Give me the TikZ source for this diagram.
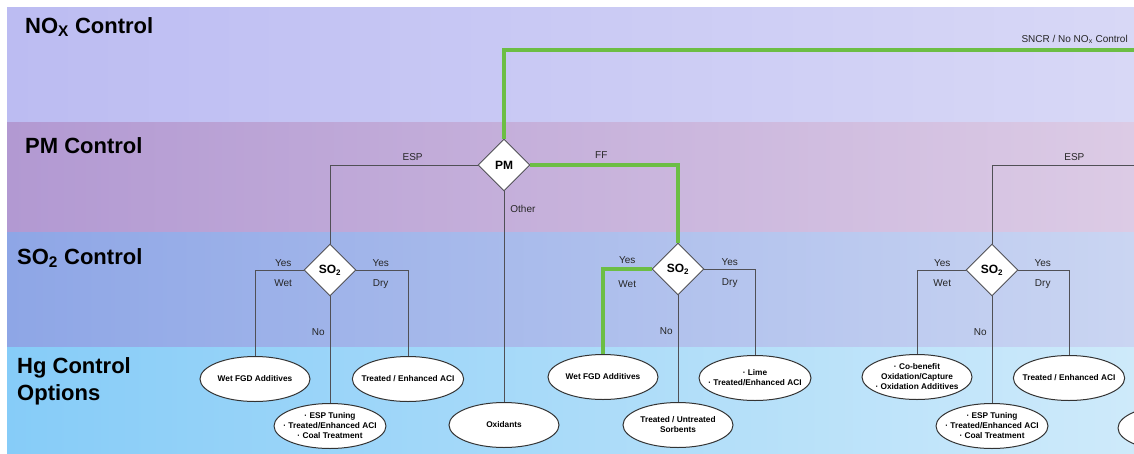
\documentclass[tikz,border=0pt]{standalone}
\usepackage{fontspec}
\setmainfont{Liberation Sans}
\usepackage{xcolor}
% band colours, left and right end of each gradient
\definecolor{noxL}{RGB}{188,188,242}
\definecolor{noxR}{RGB}{216,216,246}
\definecolor{pmL}{RGB}{178,153,210}
\definecolor{pmR}{RGB}{220,203,229}
\definecolor{soL}{RGB}{142,166,230}
\definecolor{soR}{RGB}{202,213,242}
\definecolor{hgL}{RGB}{134,204,248}
\definecolor{hgR}{RGB}{206,234,250}
\definecolor{pathgreen}{RGB}{108,190,68}
\definecolor{linegray}{RGB}{80,80,86}
\usetikzlibrary{shapes.geometric, positioning}

\begin{document}
\begin{tikzpicture}[
    x=1pt, y=-1pt,
    title/.style={font=\fontsize{22}{27}\selectfont\bfseries, anchor=base west, align=left, inner sep=0pt},
    decision/.style={diamond, draw=linegray, fill=white, line width=0.9pt, minimum width=52pt, minimum height=52pt, inner sep=0pt, font=\fontsize{12}{14}\selectfont\bfseries},
    option/.style={ellipse, draw=black!80, fill=white, line width=1pt, minimum width=110pt, minimum height=45pt, inner xsep=-7pt, inner ysep=-2pt, align=center, font=\fontsize{8.3}{10}\selectfont\bfseries},
    link/.style={draw=linegray, line width=0.8pt},
    chosen/.style={draw=pathgreen, line width=4.5pt},
    lbl/.style={font=\fontsize{10}{11}\selectfont, text=black!85, inner sep=2pt}
]
\useasboundingbox (0,0) rectangle (1134,453);
\clip (0,0) rectangle (1134,453);
\fill[white] (0,0) rectangle (1134,453);

% control levels
\shade[left color=noxL, right color=noxR] (7,7) rectangle (1134,122);
\shade[left color=pmL, right color=pmR] (7,122) rectangle (1134,232);
\shade[left color=soL, right color=soR] (7,232) rectangle (1134,347);
\shade[left color=hgL, right color=hgR] (7,347) rectangle (1134,453);

\node[title] (noxT) at (25,33) {NO\textsubscript{X} Control};
\node[title] (pmT) at (25,153) {PM Control};
\node[title] (soT) at (17,264) {SO\textsubscript{2} Control};
\node[title] (hgT) at (17,400) {Hg Control\\Options};

% decisions
\node[decision] (pm) at (504,165) {PM};
\node[decision] (soA) at (330,270) {SO\textsubscript{2}};
\node[decision] (soB) at (678,269) {SO\textsubscript{2}};
\node[decision] (soC) at (992,270) {SO\textsubscript{2}};
\coordinate (noxEnd) at (1134,50);
\coordinate (espEnd) at (1134,165);

% Hg options
\node[option] (wetA) at (255,379) {Wet FGD Additives};
\node[option] (trtA) at (408,379) {Treated / Enhanced ACI};
\node[option] (espA) at (330,426) {· ESP Tuning\\· Treated/Enhanced ACI\\· Coal Treatment};
\node[option] (oxid) at (504,425) {Oxidants};
\node[option] (wetB) at (603,377) {Wet FGD Additives};
\node[option] (limeB) at (755,378) {· Lime\\· Treated/Enhanced ACI};
\node[option] (sorbB) at (678,425) {Treated / Untreated\\Sorbents};
\node[option] (cobC) at (917,377) {· Co-benefit\\Oxidation/Capture\\· Oxidation Additives};
\node[option] (trtC) at (1069,378) {Treated / Enhanced ACI};
\node[option] (espC) at (992,426) {· ESP Tuning\\· Treated/Enhanced ACI\\· Coal Treatment};
\node[option] (nextD) at (1173,428) {};

% branches
\draw[link] (pm.west) -| node[lbl, above=2pt, pos=0.22] {ESP} (soA.north);
\draw[link] (pm.south) -- node[lbl, right, xshift=4pt, pos=0.085] {Other} (oxid.north);
\draw[link] (soA.west) -| node[lbl, above=1pt, pos=0.21] {Yes} node[lbl, below=7pt, pos=0.21] {Wet} (wetA.north);
\draw[link] (soA.east) -| node[lbl, above=1pt, pos=0.235] {Yes} node[lbl, below=7pt, pos=0.235] {Dry} (trtA.north);
\draw[link] (soA.south) -- node[lbl, left, xshift=-3pt, pos=0.33] {No} (espA.north);

\draw[link] (soB.east) -| node[lbl, above=1pt, pos=0.25] {Yes} node[lbl, below=7pt, pos=0.25] {Dry} (limeB.north);
\draw[link] (soB.south) -- node[lbl, left, xshift=-3pt, pos=0.33] {No} (sorbB.north);

\draw[link] (espEnd) -| node[lbl, above=2pt, pos=0.21] {ESP} (soC.north);
\draw[link] (soC.west) -| node[lbl, above=1pt, pos=0.24] {Yes} node[lbl, below=7pt, pos=0.24] {Wet} (cobC.north);
\draw[link] (soC.east) -| node[lbl, above=1pt, pos=0.24] {Yes} node[lbl, below=7pt, pos=0.24] {Dry} (trtC.north);
\draw[link] (soC.south) -- node[lbl, left, xshift=-3pt, pos=0.33] {No} (espC.north);

% selected route
\draw[chosen] (pm.north) |- node[lbl, anchor=south east, pos=1, yshift=2pt, xshift=-2pt] {SNCR / No NO\textsubscript{x} Control} (noxEnd);
\draw[chosen] (pm.east) -| node[lbl, above=2pt, pos=0.24] {FF} (soB.north);
\draw[chosen] (soB.west) -| node[lbl, above=1pt, pos=0.25] {Yes} node[lbl, below=7pt, pos=0.25] {Wet} (wetB.north);
\end{tikzpicture}
\end{document}
